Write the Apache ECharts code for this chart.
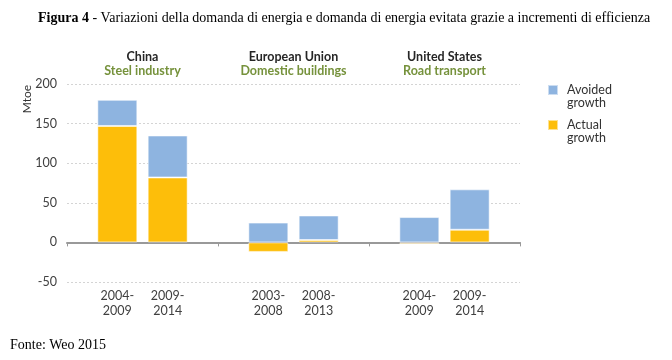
<!DOCTYPE html>
<html>
<head>
<meta charset="utf-8">
<script src="https://cdn.jsdelivr.net/npm/echarts@6/dist/echarts.min.js"></script>
<style>
  html, body { margin: 0; padding: 0; background: #ffffff; }
  #chart { width: 672px; height: 360px; }
</style>
</head>
<body>
<div id="chart"></div>
<script>
// ---- data ----
const groups = ['China', 'European Union', 'United States'];
const sectors = ['Steel industry', 'Domestic buildings', 'Road transport'];
const periods = [['2004-2009', '2009-2014'], ['2003-2008', '2008-2013'], ['2004-2009', '2009-2014']];
const actualGrowth = [[147, 82], [-12, 3], [-2, 16]];
const avoidedGrowth = [[33, 53], [25, 31], [32, 51]];
const yTicks = { min: -50, max: 200, interval: 50 };

// ---- build slot arrays (spacer, period, period per group, closing spacer) ----
const slotIds = [], slotLabels = [], actualSlots = [], avoidedSlots = [];
let k = 0;
groups.forEach((g, gi) => {
  slotIds.push('s' + (k++)); slotLabels.push(''); actualSlots.push(null); avoidedSlots.push(null);
  periods[gi].forEach((p, pi) => {
    slotIds.push('s' + (k++));
    slotLabels.push(p.replace('-', '-\n'));
    actualSlots.push(actualGrowth[gi][pi]);
    avoidedSlots.push(avoidedGrowth[gi][pi]);
  });
});
slotIds.push('s' + (k++)); slotLabels.push(''); actualSlots.push(null); avoidedSlots.push(null);

const FONT = 'Lato';
// square legend icon drawn in the upper part of a taller box
const LEGEND_ICON = 'path://M0,0L10,0L10,10L0,10Z M0,22L0.01,22';
const chart = echarts.init(document.getElementById('chart'), null, { renderer: 'canvas' });
chart.setOption({
  animation: false,
  backgroundColor: '#ffffff',
  title: [
    {
      left: 33, top: 6,
      text: '{b|Figura 4} - Variazioni della domanda di energia e domanda di energia evitata grazie a incrementi di efficienza',
      textStyle: {
        fontFamily: 'Liberation Serif', fontSize: 14, fontWeight: 'normal', color: '#000',
        rich: { b: { fontFamily: 'Liberation Serif', fontSize: 14, fontWeight: 'bold', color: '#000' } }
      }
    },
    {
      left: 5, top: 333,
      text: 'Fonte: Weo 2015',
      textStyle: { fontFamily: 'Liberation Serif', fontSize: 14, fontWeight: 'normal', color: '#000' }
    }
  ],
  legend: {
    orient: 'vertical',
    left: 542, top: 78,
    itemWidth: 10, itemHeight: 22, itemGap: 9,
    icon: LEGEND_ICON,
    data: ['Avoided growth', 'Actual growth'],
    formatter: name => name.replace(' ', '\n'),
    textStyle: { fontFamily: FONT, fontSize: 12.5, lineHeight: 13, color: '#333', padding: [0, 0, 0, 4] }
  },
  graphic: [
    {
      type: 'text', x: 27, y: 99, rotation: Math.PI / 2,
      style: { text: 'Mtoe', font: '12px Lato', fill: '#333', align: 'center', verticalAlign: 'middle' }
    }
  ],
  grid: { left: 67, right: 152, top: 84, bottom: 78, containLabel: false },
  xAxis: [
    {
      type: 'category',
      data: slotIds,
      boundaryGap: false,
      axisLine: { onZero: true, lineStyle: { color: '#999999', width: 2 } },
      axisTick: { show: true, interval: (i) => i % 3 === 0, length: 4, lineStyle: { color: '#999999' } },
      axisLabel: {
        interval: 0, margin: 6,
        formatter: (v, i) => slotLabels[i],
        fontFamily: FONT, fontSize: 12.5, lineHeight: 15, color: '#404040'
      },
      splitLine: { show: false }
    },
    {
      type: 'category',
      position: 'top',
      data: groups,
      boundaryGap: true,
      axisLine: { show: false },
      axisTick: { show: false },
      axisLabel: {
        interval: 0, margin: 6,
        formatter: (v, i) => '{g|' + groups[i] + '}\n{s|' + sectors[i] + '}',
        rich: {
          g: { fontFamily: FONT, fontSize: 12.5, fontWeight: 'bold', color: '#262626', lineHeight: 14 },
          s: { fontFamily: FONT, fontSize: 12.5, fontWeight: 'bold', color: '#76923C', lineHeight: 14 }
        }
      },
      splitLine: { show: false }
    }
  ],
  yAxis: {
    type: 'value',
    min: yTicks.min, max: yTicks.max, interval: yTicks.interval,
    axisLine: { show: false },
    axisTick: { show: false },
    axisLabel: { margin: 10, fontFamily: FONT, fontSize: 12.5, color: '#404040' },
    splitLine: { show: true, lineStyle: { color: '#d4d4d4', type: [2, 2], width: 1 } }
  },
  series: [
    {
      name: 'Actual growth', type: 'bar', stack: 'growth', xAxisIndex: 0,
      barWidth: 40,
      data: actualSlots,
      itemStyle: { color: '#FDBE0A', borderColor: 'rgba(255,255,255,0.55)', borderWidth: 1 }
    },
    {
      name: 'Avoided growth', type: 'bar', stack: 'growth', xAxisIndex: 0,
      barWidth: 40,
      data: avoidedSlots,
      itemStyle: { color: '#8EB4E0', borderColor: 'rgba(255,255,255,0.55)', borderWidth: 1 }
    }
  ]
});
</script>
</body>
</html>
